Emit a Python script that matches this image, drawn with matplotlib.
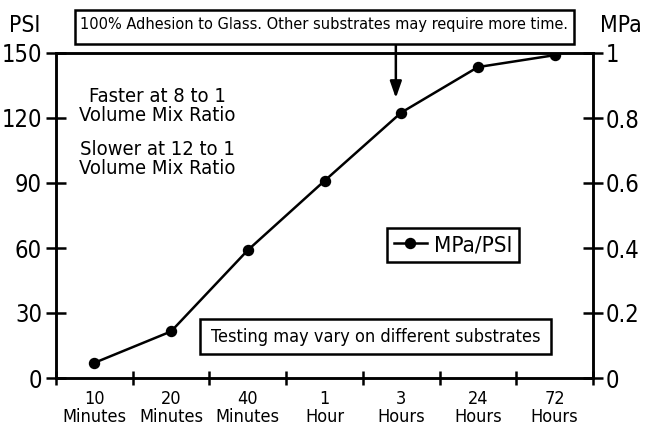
import matplotlib
matplotlib.use("Agg")
import matplotlib.pyplot as plt
from matplotlib.patches import Rectangle
import numpy as np

categories = ["10\nMinutes", "20\nMinutes", "40\nMinutes", "1\nHour", "3\nHours", "24\nHours", "72\nHours"]
psi_values = [7, 21.5, 59, 91, 122.5, 143.5, 149]
psi_ticks = [0, 30, 60, 90, 120, 150]
mpa_ticks = [0, 0.2, 0.4, 0.6, 0.8, 1]
mpa_labels = ["0", "0.2", "0.4", "0.6", "0.8", "1"]

plt.rcParams['font.family'] = ['DejaVu Sans']
plt.rcParams['font.stretch'] = 'condensed'

W, H = 645, 426
fig = plt.figure(figsize=(W / 100, H / 100), dpi=100)
ax = fig.add_axes([56 / W, 1 - 378 / H, 537 / W, 325 / H])
x = np.arange(len(categories))
ax.plot(x, psi_values, color='black', lw=1.8, marker='o', ms=7.2, label='MPa/PSI')
ax.set_xlim(-0.5, len(categories) - 0.5)
ax.set_ylim(0, 150)
ax.set_yticks(psi_ticks)
ax.set_yticklabels([str(t) for t in psi_ticks], fontsize=17)
ax.set_xticks(x)
ax.set_xticklabels(categories, fontsize=13, linespacing=1.0)
ax.set_xticks(np.arange(-0.5, len(categories)), minor=True)
ax.tick_params(axis='x', which='major', length=0, pad=9)
ax.tick_params(axis='x', which='minor', direction='inout', length=10, width=1.8)
ax.tick_params(axis='y', direction='inout', length=14, width=1.8, pad=3)
for s in ax.spines.values():
    s.set_linewidth(1.8)

ax2 = ax.twinx()
ax2.set_ylim(0, 1)
ax2.set_yticks(mpa_ticks)
ax2.set_yticklabels(mpa_labels, fontsize=17)
ax2.tick_params(axis='y', direction='inout', length=14, width=1.8, pad=2)
for s in ax2.spines.values():
    s.set_linewidth(1.8)

fig.text(9 / W, 1 - 32 / H, "PSI", fontsize=16.5, ha='left', va='baseline')
fig.text(642 / W, 1 - 32 / H, "MPa", fontsize=16.5, ha='right', va='baseline')

ax.text(0.188, 0.895, "Faster at 8 to 1\nVolume Mix Ratio", transform=ax.transAxes,
        fontsize=14.5, ha='center', va='top', linespacing=1.0, multialignment='center')
ax.text(0.188, 0.732, "Slower at 12 to 1\nVolume Mix Ratio", transform=ax.transAxes,
        fontsize=14.5, ha='center', va='top', linespacing=1.0, multialignment='center')

# top note box
fig.patches.append(Rectangle((75 / W, 1 - 44 / H), 499 / W, 34 / H, transform=fig.transFigure,
                             fc='white', ec='black', lw=1.8))
fig.text(324.5 / W, 1 - 25 / H, "100% Adhesion to Glass. Other substrates may require more time.",
         fontsize=11.7, ha='center', va='center')
ax.annotate("", xy=(3.93, 129.2), xycoords='data', xytext=(3.93, 155),
            textcoords='data', annotation_clip=False,
            arrowprops=dict(arrowstyle='-|>,head_length=1.0,head_width=0.35', color='black',
                            lw=1.8, shrinkA=0, shrinkB=0))

# testing box
fig.patches.append(Rectangle((200 / W, 1 - 354 / H), 351 / W, 35 / H, transform=fig.transFigure,
                             fc='white', ec='black', lw=1.8, zorder=3))
fig.text(375.5 / W, 1 - 336.5 / H, "Testing may vary on different substrates",
         fontsize=13, ha='center', va='center', zorder=4)

leg = ax.legend(loc='center', bbox_to_anchor=(0.739, 0.409), fontsize=16, frameon=True,
                fancybox=False, handlelength=1.5, handletextpad=0.3, borderpad=0.3,
                borderaxespad=0, framealpha=1)
leg.get_frame().set_edgecolor('black')
leg.get_frame().set_linewidth(1.8)

fig.savefig("out.png", dpi=100)
